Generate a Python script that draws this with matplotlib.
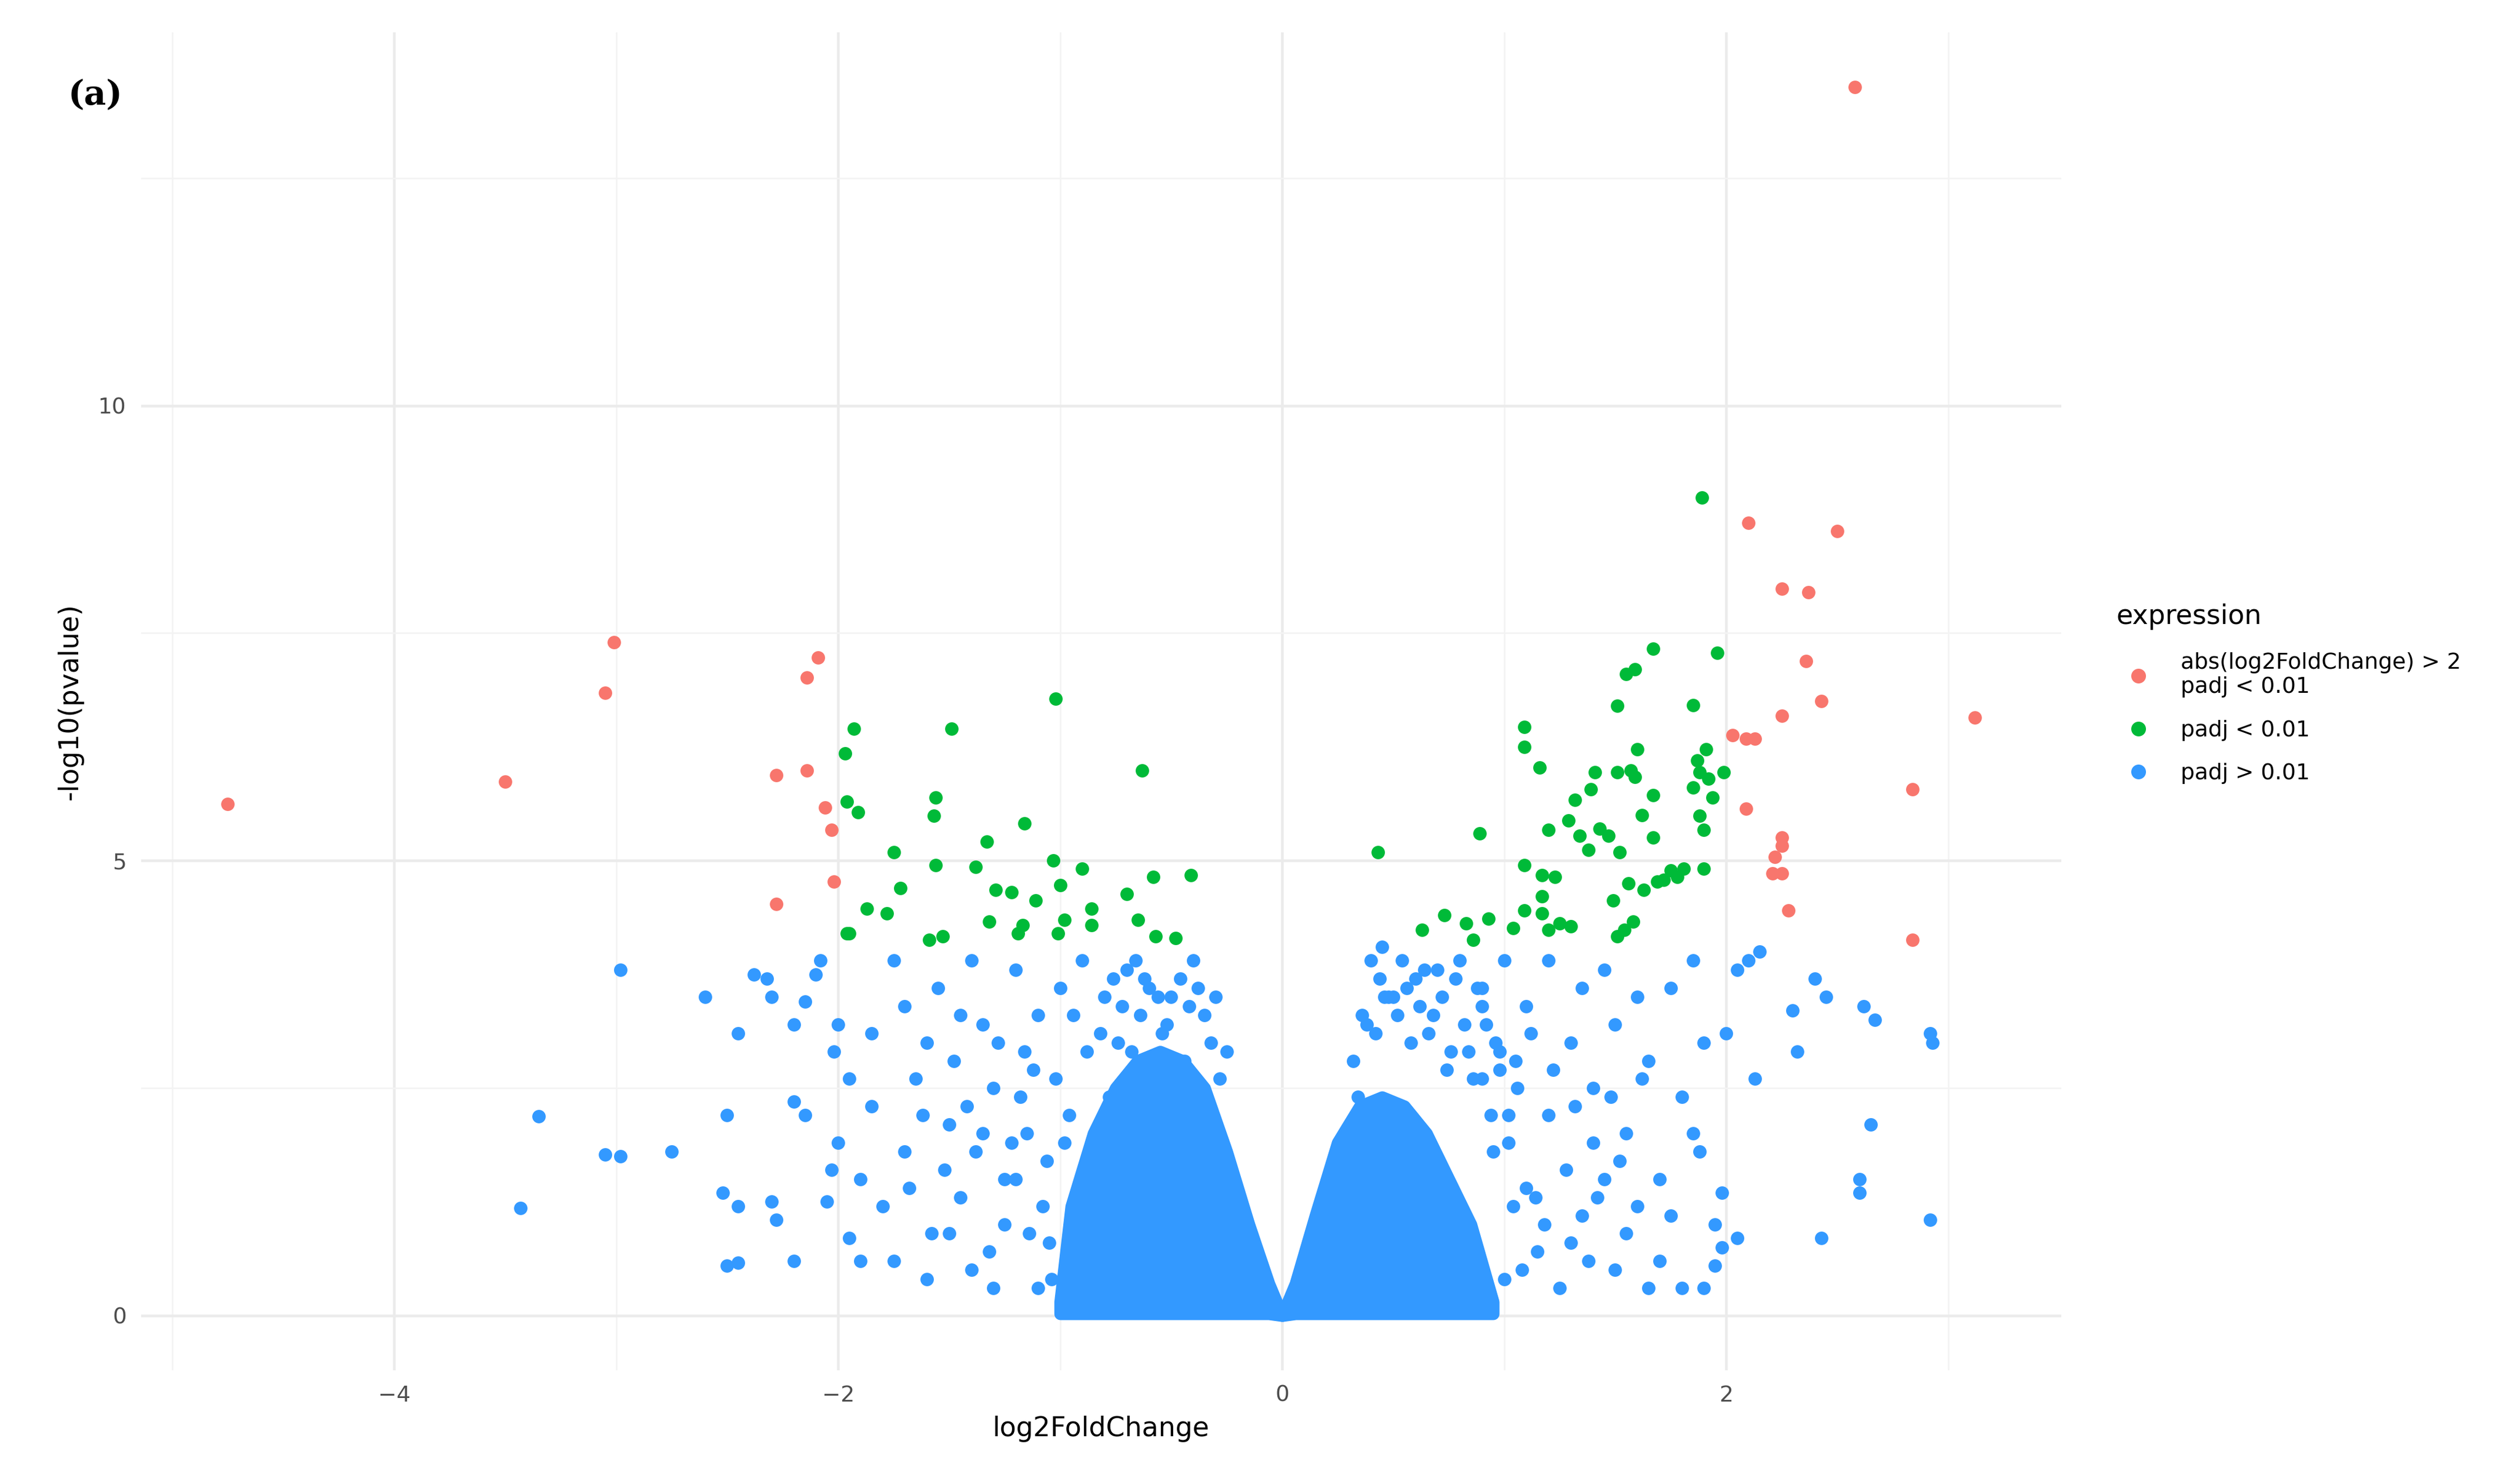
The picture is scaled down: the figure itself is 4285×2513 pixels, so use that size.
import matplotlib
matplotlib.use("Agg")
import matplotlib.pyplot as plt
from matplotlib.lines import Line2D

red_x = [2.58,-4.75,-3.01,-3.05,-3.50,-2.09,-2.14,-2.28,-2.14,-2.06,-2.03,-2.02,-2.28,
         2.10,2.50,2.25,2.37,2.36,2.43,2.25,3.12,2.03,2.09,2.13,2.09,2.84,2.25,2.25,2.22,2.21,2.25,2.28,2.84]
red_y = [13.5,5.62,7.40,6.84,5.87,7.23,7.01,5.94,5.99,5.58,5.34,4.77,4.52,
         8.71,8.62,7.99,7.95,7.19,6.75,6.59,6.57,6.38,6.34,6.34,5.57,5.78,5.25,5.16,5.04,4.86,4.86,4.45,4.13]

green_x = [-1.93,-1.97,-1.96,-1.91,-1.49,-1.02,-1.56,-1.57,-1.16,-1.33,-1.75,-1.56,-1.38,-1.03,-0.90,
           -1.72,-1.29,-1.22,-1.11,-1.0,-1.87,-1.78,-1.95,-1.96,-1.59,-1.53,-1.32,-1.17,-0.98,-0.86,-0.86,
           -1.19,-1.01,-0.63,-0.58,-0.41,-0.70,-0.65,-0.57,-0.48,
           0.43,0.63,0.73,0.83,0.86,0.89,0.93,1.09,1.04,1.09,1.09,1.09,1.16,1.17,1.17,1.17,1.20,1.23,1.25,
           1.20,1.29,1.30,1.32,1.34,1.38,1.39,1.41,1.43,1.47,1.51,1.51,1.52,1.55,1.59,1.57,1.56,1.59,1.60,
           1.62,1.63,1.67,1.67,1.67,1.69,1.72,1.75,1.78,1.81,1.85,1.87,1.85,1.88,1.89,1.91,1.92,1.94,1.88,
           1.90,1.96,1.99,1.90,1.49,1.54,1.51,1.58]
green_y = [6.45,6.18,5.65,5.53,6.45,6.78,5.69,5.49,5.41,5.21,5.09,4.95,4.93,5.0,4.91,
           4.70,4.68,4.65,4.56,4.73,4.47,4.42,4.20,4.2,4.13,4.17,4.33,4.29,4.35,4.47,4.29,
           4.2,4.2,5.99,4.82,4.84,4.63,4.35,4.17,4.15,
           5.09,4.24,4.4,4.31,4.13,5.3,4.36,4.45,4.26,4.95,6.47,6.25,6.02,4.84,4.61,4.42,4.24,4.82,4.31,
           5.34,5.44,4.28,5.67,5.27,5.12,5.78,5.97,5.35,5.27,6.70,5.97,5.09,7.05,7.10,5.99,4.75,5.92,6.22,
           5.50,4.68,7.33,5.72,5.25,4.77,4.79,4.89,4.82,4.91,6.71,6.1,5.80,5.97,8.99,6.22,5.90,5.69,5.49,
           5.34,7.28,5.97,4.91,4.56,4.24,4.17,4.33]

blue_x = [-2.98,-3.35,-3.43,-3.05,-2.98,-2.75,-2.6,-2.45,-2.38,-2.32,-2.3,-2.2,-2.15,-2.1,-2.08,-2.0,-2.02,
          -2.2,-2.15,-2.5,-2.52,-2.45,-2.3,-2.28,-2.5,-2.45,-2.2,-2.05,-2.03,-2.0,-1.95,-1.9,-1.85,-1.8,-1.75,
          -1.7,-1.65,-1.6,-1.55,-1.5,-1.45,-1.4,-1.35,-1.3,-1.25,-1.2,-1.15,-1.1,-1.05,-1.75,-1.6,-1.5,-1.9,
          -1.85,-1.4,-1.3,-1.2,-1.1,-1.95,-1.7,-0.9,-0.8,-0.7,-0.6,-0.5,-0.4,-0.35,-0.25,-0.9,-0.8,
          -1.62,-1.48,-1.38,-1.28,-1.18,-1.08,-1.52,-1.42,-1.32,-1.22,-1.12,-1.68,-1.58,-1.45,-1.35,-1.25,
          -1.02,-0.98,-0.94,-0.92,-0.88,-0.86,-0.82,-0.78,-0.76,-0.72,-0.68,-0.64,-0.62,-0.56,-0.52,-0.46,
          -0.42,-0.38,-0.32,-0.3,-1.06,-1.14,-1.04,-0.96,-0.84,-0.74,-0.66,-0.54,-0.44,-0.28,-1.16,-1.0,
          0.4,0.45,0.5,0.6,0.7,0.8,0.9,1.0,1.1,1.2,1.3,1.35,1.4,1.45,1.5,1.55,1.6,1.65,1.7,1.75,1.8,1.85,
          1.9,1.95,2.0,2.05,2.1,2.13,2.15,2.3,2.32,2.4,2.45,2.62,2.67,2.92,2.93,2.65,2.6,2.6,2.43,2.92,2.05,
          1.98,1.98,1.95,1.85,1.88,1.9,1.8,1.7,1.6,1.5,1.4,1.3,1.2,1.1,1.0,0.9,0.8,1.25,1.55,1.45,1.15,1.05,
          0.95,0.85,1.35,1.65,1.75,1.62,1.52,1.12,1.22,1.32,1.42,1.02,0.92,1.18,1.28,1.38,1.48,0.98,1.08,
          0.32,0.36,0.42,0.48,0.52,0.56,0.62,0.66,0.72,0.76,0.82,0.86,0.88,0.94,0.96,1.02,1.06,1.14,0.34,
          0.44,0.58,0.68,0.74,0.84,0.78,0.64,0.54,0.46,0.38,0.9,0.98,1.04]
blue_y = [3.80,2.19,1.18,1.77,1.75,1.80,3.5,3.1,3.75,3.7,3.5,3.2,3.45,3.75,3.9,3.2,2.9,
          2.35,2.2,2.2,1.35,1.2,1.25,1.05,0.55,0.58,0.6,1.25,1.6,1.9,0.85,1.5,2.3,1.2,0.6,
          1.8,2.6,3.0,3.6,2.1,1.3,0.5,3.2,2.5,1.0,3.8,2.0,3.3,0.8,3.9,0.4,0.9,0.6,
          3.1,3.9,0.3,1.5,0.3,2.6,3.4,3.9,3.5,3.8,3.6,3.5,3.9,3.3,2.9,0.2,0.15,
          2.2,2.8,1.8,3.0,2.4,1.2,1.6,2.3,0.7,1.9,2.7,1.4,0.9,3.3,2.0,1.5,
          2.6,1.9,3.3,1.2,2.9,0.7,3.1,2.4,3.7,3.4,2.9,3.3,3.7,3.5,3.2,3.7,
          3.4,3.6,3.0,3.5,1.7,0.9,0.4,2.2,1.6,3.0,3.9,3.1,2.8,2.6,2.9,3.6,
          3.9,4.05,3.5,3.7,3.8,3.9,3.6,3.9,3.4,3.9,3.0,3.6,2.5,3.8,3.2,2.0,3.5,2.8,1.5,3.6,2.4,3.9,
          3.0,1.0,3.1,3.8,3.9,2.6,4.0,3.35,2.9,3.7,3.5,3.4,3.25,3.1,3.0,2.1,1.5,1.35,0.85,1.05,0.85,
          1.35,0.75,0.55,2.0,1.8,0.3,0.3,0.6,1.2,0.5,1.9,0.8,2.2,1.4,0.4,2.6,1.1,0.3,0.9,1.5,0.7,2.8,
          1.8,0.3,1.1,0.3,1.1,2.6,1.7,3.1,2.7,2.3,1.3,2.2,3.2,1.0,1.6,0.6,2.4,2.9,0.5,
          2.8,3.3,3.1,3.5,3.3,3.6,3.4,3.1,3.5,2.9,3.2,2.6,3.6,2.2,3.0,1.9,2.5,1.3,2.4,
          3.7,3.0,3.3,2.7,2.9,3.7,3.8,3.9,3.5,3.2,3.4,2.7,1.2]

# outline of the dense core of non-significant genes
core_left_x = [-1.0,-0.95,-0.85,-0.75,-0.65,-0.55,-0.45,-0.35,-0.25,-0.15,-0.06,0.0]
core_left_top = [0.15,1.2,2.0,2.5,2.8,2.9,2.8,2.5,1.8,1.0,0.35,0.0]
core_right_x = [0.0,0.06,0.15,0.25,0.35,0.45,0.55,0.65,0.75,0.85,0.95]
core_right_top = [0.0,0.35,1.1,1.9,2.3,2.4,2.3,2.0,1.5,1.0,0.15]
core_bottom_l = [0.02,0.02,0.02,0.02,0.02,0.02,0.02,0.02,0.02,0.02,0.02,0.0]
core_bottom_r = [0.0,0.02,0.02,0.02,0.02,0.02,0.02,0.02,0.02,0.02,0.02]

RED, GREEN, BLUE = "#F8766D", "#00BA38", "#3399FF"

fig = plt.figure(figsize=(4285/300, 2513/300), dpi=300)
ax = fig.add_axes([0.056, 0.073, 0.762, 0.905])
ax.set_facecolor("white")
ax.fill_between(core_left_x, core_bottom_l, core_left_top, color=BLUE, lw=5, edgecolor=BLUE, zorder=2)
ax.fill_between(core_right_x, core_bottom_r, core_right_top, color=BLUE, lw=5, edgecolor=BLUE, zorder=2)
ax.scatter(blue_x, blue_y, s=30, color=BLUE, lw=0, zorder=3)
ax.scatter(green_x, green_y, s=30, color=GREEN, lw=0, zorder=3)
ax.scatter(red_x, red_y, s=30, color=RED, lw=0, zorder=3)

ax.set_xlim(-5.14, 3.51)
ax.set_ylim(-0.6, 14.1)
ax.set_xticks([-4, -2, 0, 2])
ax.set_xticks([-5, -3, -1, 1, 3], minor=True)
ax.set_yticks([0, 5, 10])
ax.set_yticks([2.5, 7.5, 12.5], minor=True)
ax.grid(True, which="major", color="#EBEBEB", lw=1.1)
ax.grid(True, which="minor", color="#F3F3F3", lw=0.6)
ax.set_axisbelow(True)
for s in ax.spines.values():
    s.set_visible(False)
ax.tick_params(which="both", length=0, labelsize=9, labelcolor="#4D4D4D", pad=6)
ax.set_xlabel("log2FoldChange", fontsize=11, labelpad=4)
ax.set_ylabel("-log10(pvalue)", fontsize=11, labelpad=6)

handles = [Line2D([], [], marker="o", ls="", color=c, markersize=5) for c in (RED, GREEN, BLUE)]
leg = fig.legend(handles, ["abs(log2FoldChange) > 2\npadj < 0.01", "padj < 0.01", "padj > 0.01"],
                 title="expression", loc="upper left", bbox_to_anchor=(0.832, 0.605),
                 frameon=False, fontsize=9, title_fontsize=11, handletextpad=0.9,
                 labelspacing=1.0, alignment="left")
fig.text(0.027, 0.929, "(a)", fontsize=14, fontweight="bold", family="DejaVu Serif")
fig.savefig("out.png", dpi=300, facecolor="white")
